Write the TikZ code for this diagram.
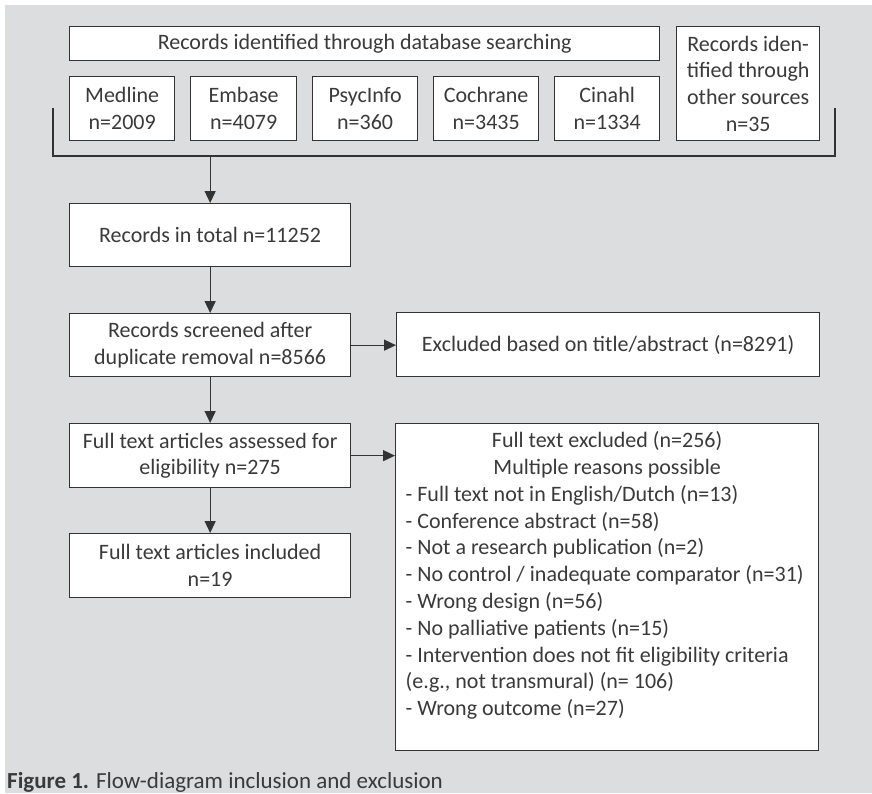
\documentclass[tikz,border=0pt]{standalone}
\usepackage{fontspec}
\setmainfont{Carlito}
\usetikzlibrary{arrows.meta}
\definecolor{bggrey}{HTML}{DCDDDF}
\definecolor{linecol}{HTML}{333333}
\definecolor{txtcol}{HTML}{3A3A3A}
\newcommand{\boxfont}{\fontsize{22pt}{26.8pt}\selectfont}
\begin{document}
\begin{tikzpicture}[x=1pt,y=-1pt,
  box/.style={draw=linecol, fill=white, line width=1.3pt, inner sep=0pt,
    align=center, anchor=north west, text=txtcol, font=\boxfont},
  conn/.style={draw=linecol, line width=1.3pt},
  arr/.style={conn, -{Triangle[length=12pt,width=11pt]}}]
\useasboundingbox (0,0) rectangle (872,793);
\fill[white] (0,0) rectangle (872,793);
\fill[bggrey] (5,5) rectangle (872,793);
% top row
\node[box, minimum width=590, minimum height=34] (db) at (69,26) {Records identified through database searching};
\node[box, minimum width=105, minimum height=64] (medline) at (69,76) {Medline\\n=2009};
\node[box, minimum width=106, minimum height=64] (embase) at (190,76) {Embase\\n=4079};
\node[box, minimum width=105, minimum height=64] (psyc) at (312,76) {PsycInfo\\n=360};
\node[box, minimum width=105, minimum height=64] (cochrane) at (433,76) {Cochrane\\n=3435};
\node[box, minimum width=105, minimum height=64] (cinahl) at (554,76) {Cinahl\\n=1334};
\node[box, minimum width=143, minimum height=114] (other) at (676,26) {Records iden-\\tified through\\other sources\\n=35};
% bracket
\coordinate (bl) at (53,108);
\coordinate (bl2) at (53,156);
\coordinate (br2) at (835,156);
\coordinate (br) at (835,108);
\draw[conn] (bl) -- (bl2) -- (br2) -- (br);
% flow
\node[box, minimum width=281, minimum height=63] (total) at (69,203) {Records in total n=11252};
\node[box, minimum width=281, minimum height=63] (screened) at (69,313) {Records screened after\\duplicate removal n=8566};
\node[box, minimum width=423, minimum height=64] (ex1) at (396,312) {Excluded based on title/abstract (n=8291)};
\node[box, minimum width=281, minimum height=64] (assessed) at (69,423) {Full text articles assessed for\\eligibility n=275};
\node[box, minimum width=423, minimum height=327] (ex2) at (395,423) {\parbox[c][311pt][t]{403pt}{\centering Full text excluded (n=256)\\Multiple reasons possible\par\raggedright
- Full text not in English/Dutch (n=13)\\
- Conference abstract (n=58)\\
- Not a research publication (n=2)\\
- No control / inadequate comparator (n=31)\\
- Wrong design (n=56)\\
- No palliative patients (n=15)\\
- Intervention does not fit eligibility criteria\\
(e.g., not transmural) (n=~106)\\
- Wrong outcome (n=27)\par}};
\node[box, minimum width=281, minimum height=64] (included) at (69,533) {Full text articles included\\n=19};
\draw[arr] (total.north |- bl2) -- (total.north);
\draw[arr] (total.south) -- (screened.north);
\draw[arr] (screened.south) -- (assessed.north);
\draw[arr] (assessed.south) -- (included.north);
\draw[arr] (screened.east) -- (ex1.west |- screened.east);
\draw[arr] (assessed.east) -- (ex2.west |- assessed.east);
% caption
\node[anchor=base west, inner sep=0pt, text=txtcol, font=\fontsize{23pt}{27pt}\selectfont] (caption) at (7,788) {\textbf{Figure 1.} Flow-diagram inclusion and exclusion};
\end{tikzpicture}
\end{document}
